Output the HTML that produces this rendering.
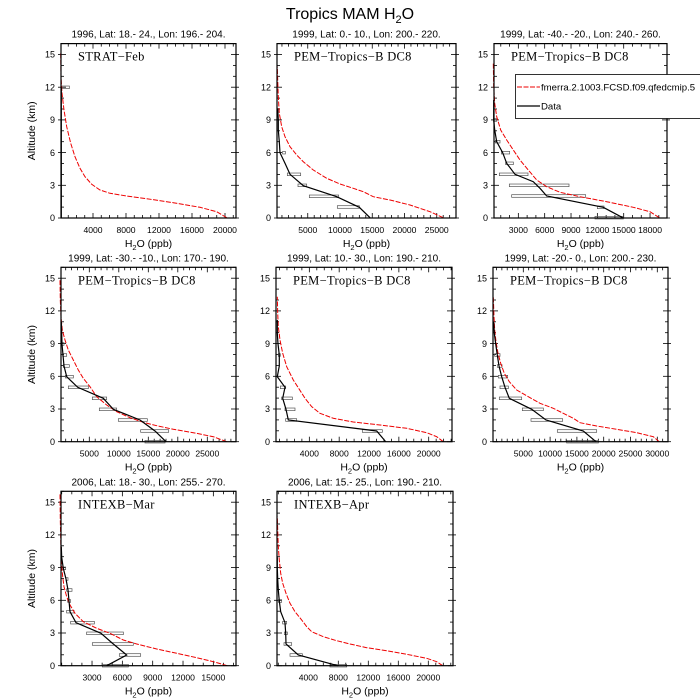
<!DOCTYPE html>
<html><head><meta charset="utf-8"><style>
body{margin:0;background:#fff}
svg{display:block;font-family:"Liberation Sans",sans-serif}
.ser{font-family:"Liberation Serif",serif}
</style></head><body>
<svg id="s" width="700" height="700" viewBox="0 0 700 700" xmlns="http://www.w3.org/2000/svg">
<text x="350" y="19" font-size="16" text-anchor="middle">Tropics MAM H<tspan font-size="11" dy="4">2</tspan><tspan dy="-4">O</tspan></text>
</svg>
<script>
const S=document.getElementById('s');let h='';
const P=[
{o:[0,0],L:61,R:236,B:218,t:"1996, Lat: 18.- 24., Lon: 196.- 204.",lab:"STRAT\u2212Feb",x0:60,k:8.25,tk:[4000,8000,12000,16000,20000],mn:1000,yl:1,
red:[[680,653],[650,635],[600,622],[520,608],[440,596],[380,588],[330,580],[300,570],[275,553],[255,530],[240,505],[225,470],[212,430],[200,380],[192,330],[186,280],[183,230],[182,160]],
blk:[[184,653],[184,600],[184,560],[184,262]],box:[[183,208,262]]},
{o:[230,30],L:277,R:456,B:218,t:"1999, Lat: 0.- 10., Lon: 200.- 220.",lab:"PEM\u2212Tropics\u2212B DC8",x0:275.5,k:6.45,tk:[5000,10000,15000,20000,25000],mn:1000,
red:[[640,563],[600,545],[540,525],[480,510],[430,500],[400,485],[370,475],[330,462],[290,445],[250,420],[220,395],[200,375],[180,350],[165,320],[155,290],[148,250],[145,200],[143,150],[142,110]],
blk:[[420,563],[388,532],[320,500],[220,467],[180,433],[165,400],[150,368],[148,335],[145,300],[145,270],[143,235]],
box:[[172,212,433],[204,230,466],[238,326,499],[322,388,531],[158,166,368]]},
{o:[460,30],L:494,R:667,B:218,t:"1999, Lat: -40.- -20., Lon: 240.- 260.",lab:"PEM\u2212Tropics\u2212B DC8",x0:492,k:8.78,tk:[3000,6000,9000,12000,15000,18000],mn:1000,
red:[[598,563],[570,545],[520,532],[440,515],[360,500],[300,487],[260,470],[230,450],[205,420],[180,390],[160,360],[140,330],[122,300],[110,260],[104,220],[101,170],[100,100]],
blk:[[488,563],[430,532],[260,498],[240,475],[220,455],[165,433],[140,400],[128,368],[110,335],[104,300],[101,270],[101,210]],
box:[[412,432,532],[155,377,498],[148,327,466],[118,204,433],[137,160,400],[124,149,368],[106,120,335],[101,110,270],[405,490,563]]},
{o:[0,250],L:61,R:236,B:441.7,t:"1999, Lat: -30.- -10., Lon: 170.- 190.",lab:"PEM\u2212Tropics\u2212B DC8",x0:59.8,k:5.9,tk:[5000,10000,15000,20000,25000],mn:1000,yl:1,
red:[[680,575],[640,560],[580,548],[520,538],[470,527],[430,517],[390,503],[350,485],[320,465],[290,440],[270,410],[250,385],[235,360],[220,330],[205,300],[195,270],[187,240],[183,200],[181,150],[180,90]],
blk:[[498,575],[465,543],[420,510],[340,478],[310,445],[233,412],[200,380],[192,348],[189,315],[186,282],[185,250],[184,215]],
box:[[422,506,543],[355,442,510],[298,350,478],[277,320,445],[205,265,412],[196,220,380],[190,208,348],[188,200,315],[184,192,282],[435,495,575]]},
{o:[240,250],L:276,R:452,B:441.7,t:"1999, Lat: 10.- 30., Lon: 190.- 210.",lab:"PEM\u2212Tropics\u2212B DC8",x0:279.5,k:7.46,tk:[4000,8000,12000,16000,20000],mn:1000,
red:[[610,575],[590,560],[560,548],[500,535],[420,525],[340,516],[280,505],[240,490],[215,470],[195,445],[178,418],[160,390],[140,350],[128,310],[120,270],[115,230],[113,190],[112,140]],
blk:[[437,575],[410,543],[145,510],[138,478],[128,445],[135,412],[112,380],[118,348],[118,315],[114,282],[112,250],[112,210]],
box:[[367,427,543],[137,170,510],[135,165,478],[125,157,445],[121,137,412],[115,121,315]]},
{o:[470,250],L:493,R:668,B:441.7,t:"1999, Lat: -20.- 0., Lon: 200.- 230.",lab:"PEM\u2212Tropics\u2212B DC8",x0:496.5,k:5.36,tk:[5000,10000,15000,20000,25000,30000],mn:1000,
red:[[568,575],[550,560],[500,548],[440,538],[380,528],[330,518],[310,505],[280,490],[250,475],[210,460],[175,440],[140,420],[118,395],[103,370],[92,340],[84,310],[78,275],[74,240],[72,200],[70,140]],
blk:[[378,575],[340,543],[228,510],[185,478],[118,445],[105,412],[95,380],[87,348],[82,315],[77,282],[73,250],[71,215]],
box:[[262,380,543],[183,278,510],[157,220,478],[88,155,445],[90,115,412],[85,113,380],[82,96,348],[74,90,315],[290,385,575]]},
{o:[0,470],L:61,R:236,B:665.7,t:"2006, Lat: 18.- 30., Lon: 255.- 270.",lab:"INTEXB\u2212Mar",x0:61.7,k:10.11,tk:[3000,6000,9000,12000,15000],mn:1000,yl:1,
red:[[682,587],[640,575],[590,563],[530,550],[470,537],[410,522],[370,510],[330,490],[290,475],[250,455],[225,430],[210,405],[200,380],[192,350],[188,320],[185,290],[183,250],[182,200],[181,150],[180,70]],
blk:[[320,587],[380,555],[340,522],[303,490],[228,458],[210,425],[207,393],[204,360],[198,327],[190,295],[185,262],[184,230]],
box:[[358,422,555],[277,400,522],[260,370,490],[212,283,458],[200,222,425],[203,212,393],[200,216,360],[198,204,327],[186,197,295],[307,385,587]]},
{o:[240,470],L:277,R:453,B:665.7,t:"2006, Lat: 15.- 25., Lon: 190.- 210.",lab:"INTEXB\u2212Apr",x0:278.3,k:7.5,tk:[4000,8000,12000,16000,20000],mn:1000,
red:[[608,587],[590,575],[560,565],[500,553],[440,542],[380,533],[330,522],[290,512],[250,500],[215,485],[200,470],[185,450],[165,425],[150,400],[138,370],[128,340],[122,310],[118,270],[115,230],[113,180],[112,140]],
blk:[[293,587],[175,555],[138,522],[137,490],[135,458],[122,425],[118,393],[115,360],[113,327],[112,295],[112,262]],
box:[[150,187,555],[132,155,522],[133,142,490],[128,140,458],[115,125,393],[270,320,587]]}
];
const ky=10.9;
for(const p of P){
 const T=p.B-16*ky,W=p.R-p.L,cx=(p.L+p.R)/2;
 const f=a=>(p.o[0]+a[0]/3).toFixed(1)+','+(p.o[1]+a[1]/3).toFixed(1);
 h+=`<text x="${cx}" y="${T-6}" font-size="10" text-anchor="middle">${p.t}</text>`;
 h+=`<text class="ser" x="${p.L+17}" y="${T+17}" font-size="12.5" letter-spacing="0.3">${p.lab}</text>`;
 for(let a=0;a<=16;a++){const y=p.B-a*ky,l=a%3==0?5:3;
  h+=`<line x1="${p.L}" y1="${y}" x2="${p.L+l}" y2="${y}" stroke="#000" stroke-width="0.8"/><line x1="${p.R}" y1="${y}" x2="${p.R-l}" y2="${y}" stroke="#000" stroke-width="0.8"/>`;
  if(a%3==0){h+=`<line x1="${p.L}" y1="${y}" x2="${p.L-3}" y2="${y}" stroke="#000" stroke-width="0.8"/><line x1="${p.R}" y1="${y}" x2="${p.R+3}" y2="${y}" stroke="#000" stroke-width="0.8"/>`;
  h+=`<text x="${p.L-6}" y="${y+3.2}" font-size="9" text-anchor="end">${a}</text>`;}}
 for(let v=0;;v+=p.mn){const x=p.x0+v/1000*p.k;if(x>p.R)break;if(x<p.L)continue;
  const maj=p.tk.includes(v),l=maj?5:3;
  h+=`<line x1="${x}" y1="${p.B}" x2="${x}" y2="${p.B-l}" stroke="#000" stroke-width="0.8"/><line x1="${x}" y1="${T}" x2="${x}" y2="${T+l}" stroke="#000" stroke-width="0.8"/>`;
  if(maj)h+=`<text x="${x}" y="${p.B+15}" font-size="8.6" text-anchor="middle">${v}</text>`;}
 h+=`<text x="${cx}" y="${p.B+29}" font-size="10.5" text-anchor="middle">H<tspan font-size="7.5" dy="3">2</tspan><tspan dy="-3">O (ppb)</tspan></text>`;
 if(p.yl)h+=`<text transform="translate(${p.L-26},${(T+p.B)/2}) rotate(-90)" font-size="10.5" text-anchor="middle">Altitude (km)</text>`;
 for(const b of p.box){const x1=p.o[0]+b[0]/3,x2=p.o[0]+b[1]/3,y=p.o[1]+b[2]/3;
  h+=`<rect x="${x1}" y="${y-1.3}" width="${x2-x1}" height="2.6" fill="none" stroke="#555" stroke-width="0.7"/>`;}
 h+=`<polyline points="${p.red.map(f).join(' ')}" fill="none" stroke="#e00" stroke-width="1" stroke-dasharray="5,1.5"/>`;
 h+=`<polyline points="${p.blk.map(f).join(' ')}" fill="none" stroke="#000" stroke-width="1.2"/>`;
 h+=`<rect x="${p.L}" y="${T}" width="${W}" height="${16*ky}" fill="none" stroke="#000" stroke-width="1.2"/>`;
}
h+=`<rect x="515.5" y="74.5" width="200" height="44" fill="#fff" stroke="#000" stroke-width="0.8"/>`;
h+=`<line x1="517" y1="87" x2="540" y2="87" stroke="#e00" stroke-width="1" stroke-dasharray="5,1.5"/><text x="541" y="90.5" font-size="9.6">fmerra.2.1003.FCSD.f09.qfedcmip.5</text>`;
h+=`<line x1="517" y1="106" x2="540" y2="106" stroke="#000" stroke-width="1.2"/><text x="541" y="109.5" font-size="9.6">Data</text>`;
S.insertAdjacentHTML('beforeend',h);
</script>
</body></html>
